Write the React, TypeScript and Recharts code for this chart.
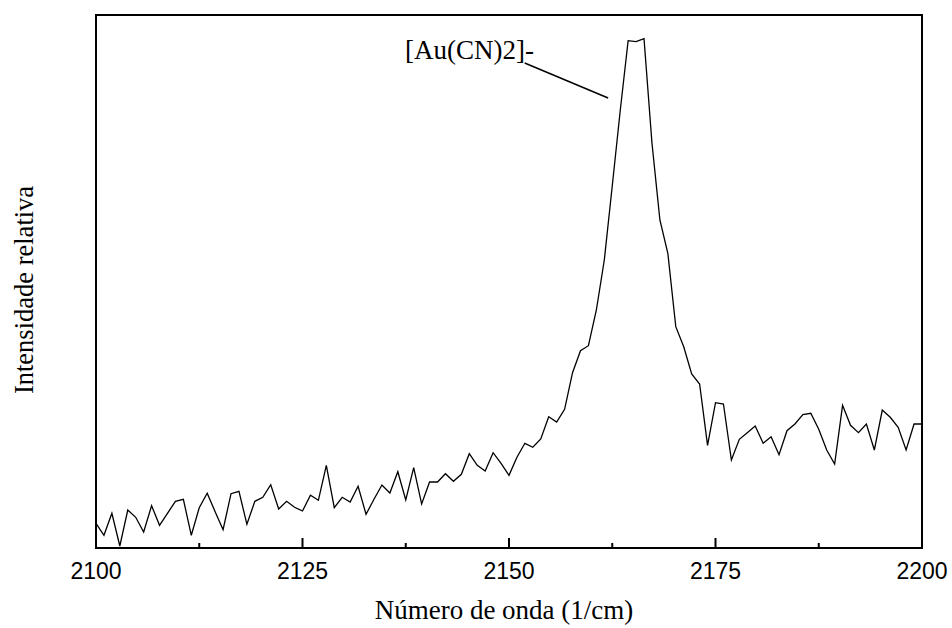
import { LineChart, Line, XAxis, YAxis, ReferenceArea, ReferenceLine } from "recharts";

// spectrum sampled on a regular grid from 2100 cm-1
const wavenumberStart = 2100;
const wavenumberStep = 100 / 104;

const intensity = [
  24.7, 12.7, 34.7, 2, 38, 30.7, 16, 42.3, 22.7, 34.7,
  46.7, 48.7, 12.7, 40.3, 54.7, 36.3, 18.3, 54.3, 56.7, 23.7,
  46.7, 50.7, 63.3, 39, 46.7, 40.7, 37, 52.7, 47.7, 82.7,
  40.3, 50.7, 46, 61.7, 33.7, 48.7, 63, 55, 76.3, 48,
  80.3, 44, 66, 66, 74.3, 66.7, 73.7, 94.3, 82.7, 77,
  95.3, 84.7, 72.7, 90.7, 104.7, 100.7, 109, 131.3, 126, 138.7,
  175.3, 197.3, 202.3, 238, 288, 362, 437, 507.3, 506.3, 509.3,
  405, 328, 294.7, 221.3, 201.3, 174, 164, 102.7, 145.3, 144,
  88, 108.7, 115.3, 122, 104.7, 111.3, 93.3, 117.3, 124, 133.3,
  134.7, 118.7, 98, 84, 142.7, 122.7, 115.3, 124, 98, 138,
  130.7, 120.7, 98, 124, 124,
];

const majorTicks = [2100, 2125, 2150, 2175, 2200];
const minorTicks = [2112.5, 2137.5, 2162.5, 2187.5];
const yMax = 533;

// annotation pointer for the peak label
const pointerStart = { x: 2151.9, y: 485 };
const pointerEnd = { x: 2162, y: 450 };

const data = intensity.map((v, i) => ({ wn: wavenumberStart + i * wavenumberStep, v }));

const serif = "'Liberation Serif', 'Times New Roman', serif";
const sans = "'Liberation Sans', Arial, sans-serif";

function WaveTick(props: any) {
  const { x, y, payload } = props;
  const major = majorTicks.includes(payload.value);
  return (
    <g>
      <line x1={x} x2={x} y1={y} y2={y - (major ? 10 : 5)} stroke="#000" strokeWidth={2} />
      {major && (
        <text x={x} y={y + 31} textAnchor="middle" fontFamily={sans} fontSize={23} fill="#000">
          {payload.value}
        </text>
      )}
    </g>
  );
}

export default function App() {
  return (
    <div style={{ position: "relative", width: 952, height: 628 }}>
      <style>{"body { margin: 0; }"}</style>
      <LineChart width={952} height={628} data={data} margin={{ top: 15, right: 30, left: 96, bottom: 50 }}>
        <XAxis
          dataKey="wn"
          type="number"
          domain={[2100, 2200]}
          ticks={[...majorTicks, ...minorTicks].sort((a, b) => a - b)}
          interval={0}
          height={30}
          tickSize={0}
          tickMargin={0}
          axisLine={false}
          tickLine={false}
          tick={<WaveTick />}
        />
        <YAxis hide domain={[0, yMax]} />
        <Line
          type="linear"
          dataKey="v"
          stroke="#000"
          strokeWidth={1.3}
          dot={false}
          isAnimationActive={false}
        />
        <ReferenceLine segment={[pointerStart, pointerEnd]} stroke="#000" strokeWidth={1.5} />
        <ReferenceArea x1={2100} x2={2200} y1={0} y2={yMax} fill="none" stroke="#000" strokeWidth={2} />
      </LineChart>
      <svg
        width={952}
        height={628}
        style={{ position: "absolute", left: 0, top: 0, pointerEvents: "none" }}
      >
        <text x={405} y={59} fontFamily={serif} fontSize={27} fill="#000">
          [Au(CN)2]-
        </text>
        <text
          x={33}
          y={290}
          transform="rotate(-90, 33, 290)"
          textAnchor="middle"
          fontFamily={serif}
          fontSize={26.5}
          fill="#000"
        >
          Intensidade relativa
        </text>
        <text x={504} y={619} textAnchor="middle" fontFamily={serif} fontSize={27} fill="#000">
          Número de onda (1/cm)
        </text>
      </svg>
    </div>
  );
}
